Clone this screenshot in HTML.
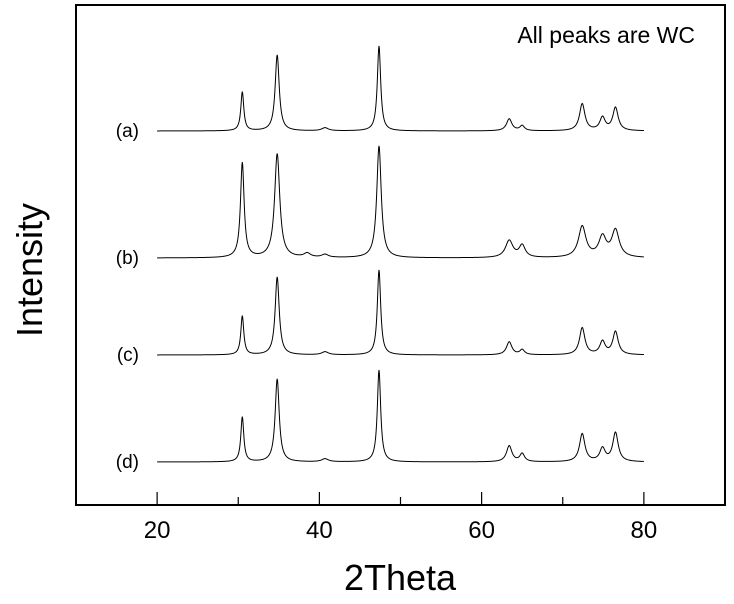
<!DOCTYPE html>
<html><head><meta charset="utf-8"><style>
html,body{margin:0;padding:0;background:#fff;}
svg{display:block;font-family:"Liberation Sans","Noto Sans CJK KR",sans-serif;}
</style></head><body>
<svg id="chart" width="734" height="604" viewBox="0 0 734 604">
<rect x="76" y="5" width="649" height="500" fill="none" stroke="#000" stroke-width="2"/>
<g id="xticks"></g>
<g id="series"></g>
<text x="695" y="43" font-size="23" text-anchor="end">All peaks are WC</text>
<text transform="translate(42,270) rotate(-90)" font-size="36" text-anchor="middle">Intensity</text>
<text x="400" y="590" font-size="36" text-anchor="middle">2Theta</text>
</svg>
<script>
const xTicks=[20,30,40,50,60,70,80];
const xTickLabels=["20","","40","","60","","80"];
const seriesNames=["(a)","(b)","(c)","(d)"];
const baselines=[374,247,150,43];
const peakPos=[30.5,34.8,38.5,40.7,47.35,63.4,65.0,72.4,74.9,76.5];
const heightsA=[39,76,0,3,85,12,5,27,13,23];
const heightsB=[95,104,4,3,112,17,12,31,20,27];
const heightsC=[39,78,0,3,85,13,5,27,13,23];
const heightsD=[45,83,0,3,92,16,8,28,13,29];
const widthsA=[0.22,0.3,0.5,0.5,0.25,0.4,0.35,0.4,0.4,0.4];
const widthsB=[0.27,0.38,0.5,0.5,0.33,0.55,0.45,0.55,0.55,0.55];
const allHeights=[heightsA,heightsB,heightsC,heightsD];
const allWidths=[widthsA,widthsB,widthsA,widthsA];
const X=v=>76+(v-10)*(649/80);
const Y=v=>505-v;
const NS="http://www.w3.org/2000/svg";
const tg=document.getElementById('xticks');
xTicks.forEach((t,i)=>{
  const l=document.createElementNS(NS,'line');
  
  
  l.setAttribute('x1',X(t));l.setAttribute('x2',X(t));
  l.setAttribute('y1',505);l.setAttribute('y2',xTickLabels[i]?492:497);
  l.setAttribute('stroke','#000');l.setAttribute('stroke-width','1.2');
  tg.appendChild(l);
  if(xTickLabels[i]){
    const tx=document.createElementNS(NS,'text');
    
    
    tx.setAttribute('x',X(t));tx.setAttribute('y',538);
    tx.setAttribute('font-size','24');tx.setAttribute('text-anchor','middle');
    tx.textContent=xTickLabels[i];tg.appendChild(tx);
  }
});
const sg=document.getElementById('series');
seriesNames.forEach((nm,s)=>{
  let d='';
  for(let x=20;x<=80.001;x+=0.05){
    let v=baselines[s];
    peakPos.forEach((p,k)=>{const w=allWidths[s][k];const u=(x-p)/w;v+=allHeights[s][k]/(1+u*u);});
    d+=(d?'L':'M')+X(x).toFixed(2)+','+Y(v).toFixed(2);
  }
  const p=document.createElementNS(NS,'path');
  
  
  p.setAttribute('d',d);p.setAttribute('fill','none');p.setAttribute('stroke','#000');p.setAttribute('stroke-width','1');
  sg.appendChild(p);
  const t=document.createElementNS(NS,'text');
  
  
  t.setAttribute('x',139);t.setAttribute('y',Y(baselines[s])+6);
  t.setAttribute('font-size','19');t.setAttribute('text-anchor','end');
  t.textContent=nm;sg.appendChild(t);
});
</script>
</body></html>
